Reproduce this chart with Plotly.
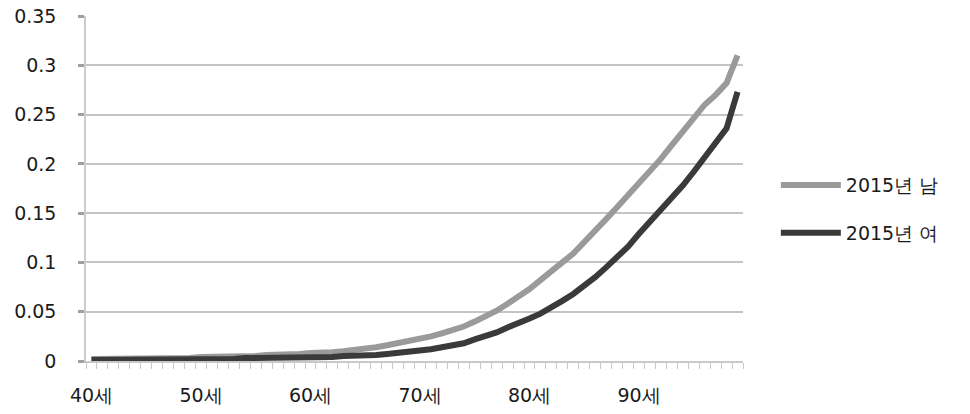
import plotly.graph_objects as go

ages = list(range(40, 100))
categories = [f"{a}세" for a in ages]
tick_labels = ["40세", "50세", "60세", "70세", "80세", "90세"]

male_2015 = [
    0.002, 0.002, 0.002, 0.003, 0.003, 0.003, 0.003, 0.003, 0.003, 0.003,
    0.004, 0.004, 0.004, 0.005, 0.005, 0.005, 0.006, 0.006, 0.007, 0.007,
    0.008, 0.008, 0.009, 0.010, 0.011, 0.012, 0.014, 0.016, 0.018, 0.020,
    0.023, 0.025, 0.028, 0.031, 0.035, 0.040, 0.045, 0.051, 0.058, 0.065,
    0.073, 0.082, 0.092, 0.100, 0.109, 0.120, 0.132, 0.144, 0.156, 0.168,
    0.180, 0.192, 0.205, 0.219, 0.233, 0.247, 0.260, 0.270, 0.282, 0.310,
]
female_2015 = [
    0.001, 0.001, 0.001, 0.001, 0.001, 0.001, 0.002, 0.002, 0.002, 0.002,
    0.002, 0.002, 0.002, 0.002, 0.003, 0.003, 0.003, 0.003, 0.003, 0.003,
    0.004, 0.004, 0.004, 0.005, 0.005, 0.006, 0.006, 0.007, 0.008, 0.009,
    0.010, 0.012, 0.014, 0.016, 0.018, 0.022, 0.025, 0.029, 0.034, 0.038,
    0.043, 0.048, 0.054, 0.061, 0.068, 0.076, 0.085, 0.095, 0.105, 0.116,
    0.129, 0.141, 0.153, 0.165, 0.178, 0.192, 0.207, 0.221, 0.236, 0.273,
]
series_names = ["2015년 남", "2015년 여"]

font_family = "DejaVu Sans"

fig = go.Figure()
fig.add_trace(go.Scatter(
    x=categories, y=male_2015, mode="lines", name=series_names[0],
    line=dict(color="#9a9a9a", width=6), legendgroup="m",
))
fig.add_trace(go.Scatter(
    x=categories, y=female_2015, mode="lines", name=series_names[1],
    line=dict(color="#3a3a3a", width=6), legendgroup="f",
))

fig.update_layout(
    width=970, height=414,
    margin=dict(l=86, r=227, t=16, b=53),
    paper_bgcolor="white", plot_bgcolor="white",
    font=dict(family=font_family, size=19, color="#1a1a1a"),
    showlegend=True,
    legend=dict(
        x=1.05, xanchor="left", y=0.44, yanchor="middle",
        font=dict(family=font_family, size=19, color="#1a1a1a"),
        itemwidth=60, tracegroupgap=20, bgcolor="rgba(0,0,0,0)",
    ),
)
fig.update_xaxes(
    type="category", categoryorder="array", categoryarray=categories,
    range=[-0.5, len(categories) - 0.5], automargin=False,
    tickmode="array", tickvals=categories,
    ticktext=[c if c in tick_labels else "" for c in categories],
    tickson="boundaries", ticks="outside", ticklen=6, tickwidth=1, tickcolor="#c8c8c8",
    showline=True, linecolor="#c8c8c8", linewidth=1.5,
    showgrid=False, zeroline=False, tickangle=0,
    ticklabelstandoff=16,
)
fig.update_yaxes(
    range=[0, 0.35], automargin=False, tickmode="array",
    tickvals=[0, 0.05, 0.1, 0.15, 0.2, 0.25, 0.3, 0.35],
    ticktext=["0", "0.05", "0.1", "0.15", "0.2", "0.25", "0.3", "0.35"],
    showgrid=True, gridcolor="#c4c4c4", gridwidth=1.5,
    showline=True, linecolor="#cccccc", linewidth=1.5,
    ticks="outside", ticklen=6, tickwidth=3, tickcolor="#a0a0a0",
    zeroline=False, ticklabelstandoff=18,
)

fig.write_html("out.html")
